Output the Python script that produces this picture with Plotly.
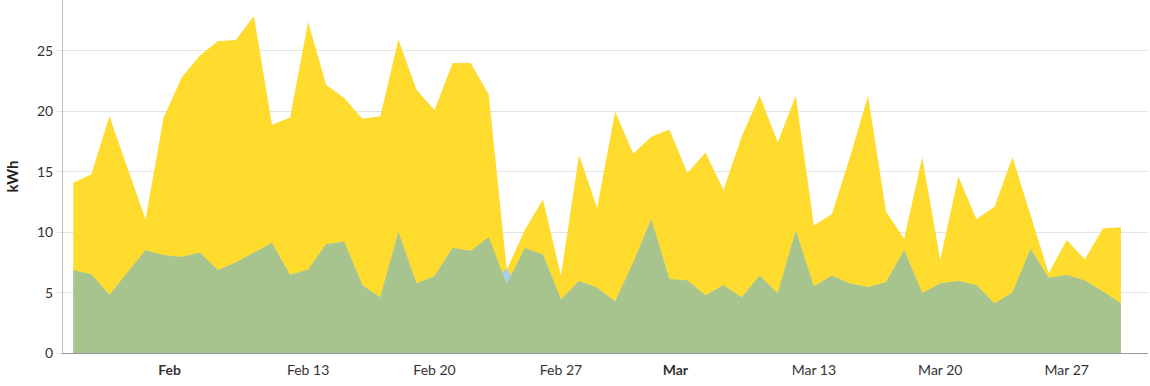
import pandas as pd
import plotly.graph_objects as go

start_date = "2022-01-31"
n_days = 59

production = [14.1, 14.8, 19.6, 15.3, 11.05, 19.5, 22.8, 24.6, 25.8, 25.9,
              27.9, 18.9, 19.5, 27.4, 22.2, 21.1, 19.4, 19.6, 25.95, 21.8,
              20.1, 24.0, 24.0, 21.4, 6.9, 10.2, 12.7, 6.4, 16.4, 12.0,
              20.0, 16.5, 17.9, 18.5, 14.9, 16.6, 13.5, 17.9, 21.3, 17.45,
              21.3, 10.55, 11.5, 16.2, 21.3, 11.7, 9.45, 16.2, 7.7, 14.6,
              11.1, 12.1, 16.2, 11.4, 6.6, 9.35, 7.75, 10.3, 10.4]

consumption = [6.85, 6.5, 4.8, 6.65, 8.5, 8.1, 7.95, 8.3, 6.85, 7.5,
               8.3, 9.1, 6.45, 6.9, 9.0, 9.2, 5.6, 4.6, 10.0, 5.75,
               6.35, 8.7, 8.45, 5.7, 7.0, 4.8, 8.15, 4.4, 5.95, 5.4,
               4.25, 7.5, 11.05, 6.1, 6.0, 4.75, 5.6, 4.6, 6.4, 4.9,
               10.1, 5.5, 6.4, 5.75, 5.45, 5.85, 8.5, 4.95, 5.75, 5.95,
               5.6, 4.1, 5.0, 8.6, 6.2, 6.45, 6.0, 5.1, 4.1]

self_consumption = [6.85, 6.5, 4.8, 6.65, 8.5, 8.1, 7.95, 8.3, 6.85, 7.5,
                    8.3, 9.1, 6.45, 6.9, 9.0, 9.2, 5.6, 4.6, 10.0, 5.75,
                    6.35, 8.7, 8.45, 9.6, 5.7, 8.7, 8.15, 4.4, 5.95, 5.4,
                    4.25, 7.5, 11.05, 6.1, 6.0, 4.75, 5.6, 4.6, 6.4, 4.9,
                    10.1, 5.5, 6.4, 5.75, 5.45, 5.85, 8.5, 4.95, 5.75, 5.95,
                    5.6, 4.1, 5.0, 8.6, 6.2, 6.45, 6.0, 5.1, 4.1]

tick_dates = ["2022-02-05 08:00", "2022-02-13", "2022-02-20", "2022-02-27",
              "2022-03-05 08:00", "2022-03-13", "2022-03-20", "2022-03-27"]
tick_labels = ["<b>Feb</b>", "Feb 13", "Feb 20", "Feb 27",
               "<b>Mar</b>", "Mar 13", "Mar 20", "Mar 27"]
y_ticks = [0, 5, 10, 15, 20, 25]

dates = pd.date_range(start_date, periods=n_days, freq="D")

fig = go.Figure()
fig.add_trace(go.Scatter(x=dates, y=production, mode="lines", fill="tozeroy",
                         line=dict(width=0, color="#FEDB2C"),
                         fillcolor="#FEDB2C", name="Production"))
fig.add_trace(go.Scatter(x=dates, y=consumption, mode="lines", fill="tozeroy",
                         line=dict(width=0, color="#A9D0E3"),
                         fillcolor="#A9D0E3", name="Consumption"))
fig.add_trace(go.Scatter(x=dates, y=self_consumption, mode="lines", fill="tozeroy",
                         line=dict(width=0, color="#A7C48F"),
                         fillcolor="#A7C48F", name="Self consumption"))

fig.update_layout(
    width=1150, height=386,
    margin=dict(l=63, r=2, t=0, b=33),
    paper_bgcolor="white", plot_bgcolor="white",
    showlegend=False,
    font=dict(family="Lato, 'Open Sans', sans-serif", size=14, color="#333333"),
)
fig.update_xaxes(
    range=["2022-01-30 10:20", "2022-03-31 12:00"],
    tickvals=tick_dates, ticktext=tick_labels,
    showgrid=False, showline=True, linecolor="#999999", linewidth=1,
    ticks="", zeroline=False, ticklabelstandoff=4,
    tickfont=dict(size=14, color="#333333"),
)
fig.update_yaxes(
    range=[0, 29.22], tickvals=y_ticks,
    showgrid=True, gridcolor="#e3e3e3", gridwidth=1,
    showline=True, linecolor="#bbbbbb", linewidth=1,
    ticks="outside", ticklen=6, tickcolor="#e3e3e3",
    zeroline=False,
    title=dict(text="<b>kWh</b>", font=dict(size=15, color="#222222"), standoff=14),
    tickfont=dict(size=14, color="#333333"),
)

fig.write_html(
    "out.html",
    config={"displayModeBar": False},
    post_script="document.body.style.margin='0';document.body.style.overflow='hidden';",
)
